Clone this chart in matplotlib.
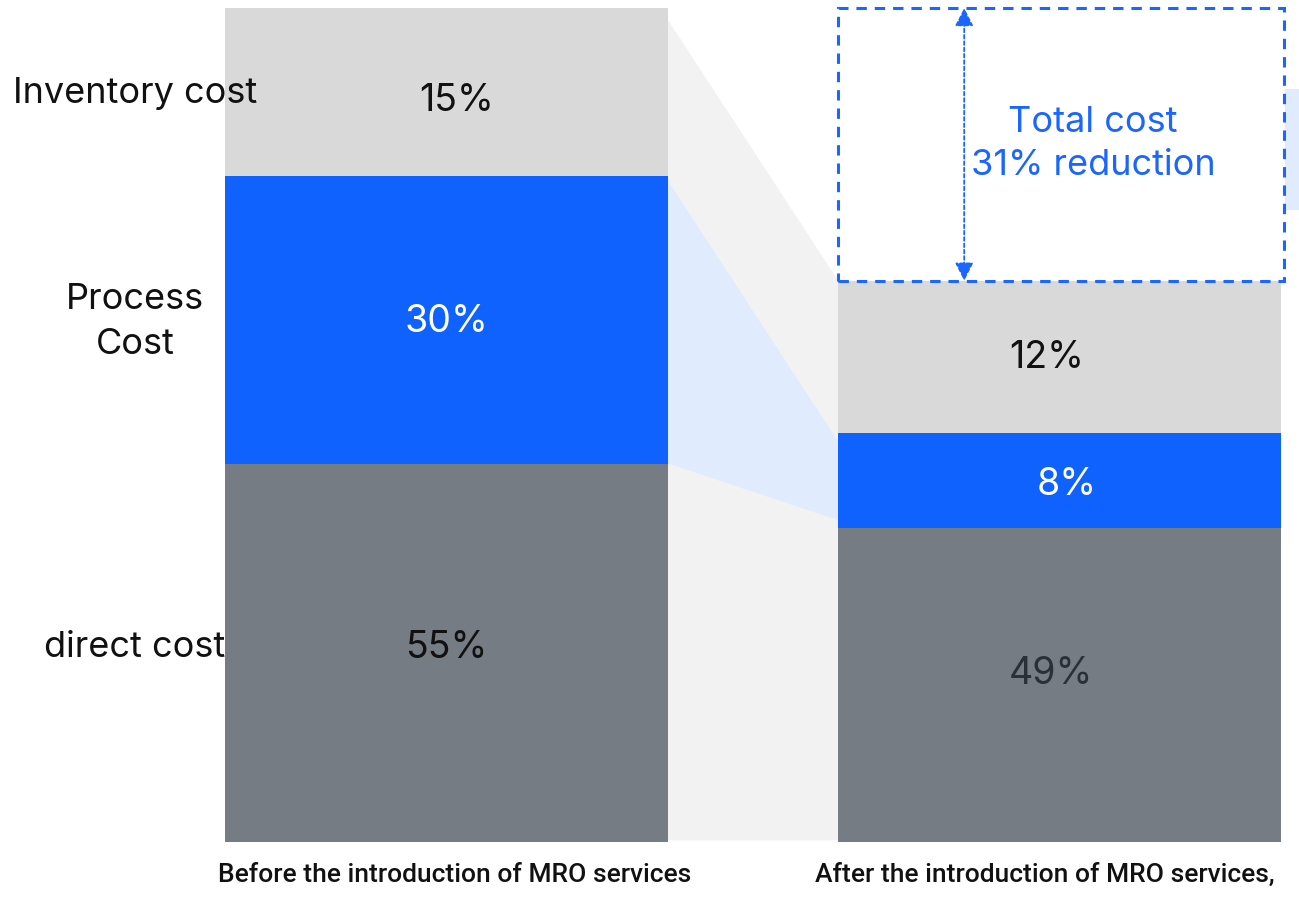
import matplotlib.pyplot as plt
from matplotlib.patches import Polygon, Rectangle

# data (segment heights in drawing units, labels as printed)
stages = ['Before the introduction of MRO services', 'After the introduction of MRO services,']
categories = ['direct cost', 'Process\nCost', 'Inventory cost']
before_heights = [45.3, 34.5, 20.2]
after_heights = [37.6, 11.5, 18.2]
before_labels = ['55%', '30%', '15%']
after_labels = ['49%', '8%', '12%']
reduction_text = 'Total cost\n31% reduction'

colors = ['#767c84', '#1062fe', '#d9d9d9']
before_text_colors = ['#111111', '#ffffff', '#111111']
after_text_colors = ['#2b2f38', '#ffffff', '#111111']
blue = '#1a66ff'

plt.rcParams['font.family'] = ['Inter', 'DejaVu Sans']

# pixel scale of the layout
PX_X = 613.0   # px per x unit (distance between bar centres)
PX_Y = 8.34    # px per y unit
X_ORIGIN = 446.5
Y_ORIGIN = 842.0


def px_x(p):
    return (p - X_ORIGIN) / PX_X


def px_y(p):
    return (Y_ORIGIN - p) / PX_Y


fig = plt.figure(figsize=(12.99, 8.97), dpi=100)
ax = fig.add_axes([0, 0, 1, 1])
ax.set_xlim(px_x(0), px_x(1299))
ax.set_ylim(px_y(897), px_y(0))
ax.axis('off')

width = 0.722
x_pos = [0, 1]

def cum(h):
    out = [0]
    for v in h:
        out.append(out[-1] + v)
    return out

cb = cum(before_heights)
ca = cum(after_heights)
x0r = x_pos[0] + width / 2
x1l = x_pos[1] - width / 2

# connecting shapes
gray_poly = Polygon([(x0r, cb[3] - 1.4), (x1l, ca[3]), (x1l, 0.2), (x0r, 0.2)],
                    closed=True, facecolor='#f2f2f2', edgecolor='none', zorder=1)
ax.add_patch(gray_poly)
blue_poly = Polygon([(x0r, cb[2] - 0.5), (x1l, ca[2] - 1.1), (x1l, ca[1] + 1.0), (x0r, cb[1] + 0.1)],
                    closed=True, facecolor='#e0ebfd', edgecolor='none', zorder=2)
ax.add_patch(blue_poly)

# stacked bars
for i in range(3):
    ax.bar(x_pos[0], before_heights[i], bottom=cb[i], width=width, color=colors[i], zorder=3)
    ax.bar(x_pos[1], after_heights[i], bottom=ca[i], width=width, color=colors[i], zorder=3)

# value labels
before_dx = [0, 0, 10]
before_dy = [5, -2, -9]
after_dx = [-9, 7, -13]
after_dy = [11, -5, -1]
for i in range(3):
    ax.text(x_pos[0] + before_dx[i] / PX_X, (cb[i] + cb[i + 1]) / 2 + before_dy[i] / PX_Y,
            before_labels[i], ha='center', va='center', fontsize=27,
            color=before_text_colors[i], zorder=5)
    ax.text(x_pos[1] + after_dx[i] / PX_X, (ca[i] + ca[i + 1]) / 2 + after_dy[i] / PX_Y,
            after_labels[i], ha='center', va='center', fontsize=27,
            color=after_text_colors[i], zorder=5)

# category labels on the left
cat_y = [647, 322, 93]
for name, y in zip(categories, cat_y):
    ax.text(px_x(135), px_y(y), name, ha='center', va='center', fontsize=26,
            linespacing=1.45, color='#111111', zorder=5)

# stage labels under the bars
stage_x = [455, 1045]
for name, x in zip(stages, stage_x):
    ax.text(px_x(x), px_y(875), name, ha='center', va='center', fontsize=19,
            family=['Roboto', 'DejaVu Sans'], fontweight='medium',
            color='#111111', zorder=5)

# reduction box
box = Rectangle((x1l, ca[3]), width + 3 / PX_X, cb[3] - ca[3], fill=False,
                edgecolor=blue, linewidth=2.2, linestyle=(0, (3.4, 2.6)), zorder=6)
ax.add_patch(box)
xa = x1l + 126 / PX_X
ax.annotate('', xy=(xa, cb[3]), xytext=(xa, ca[3]),
            arrowprops=dict(arrowstyle='<|-|>,head_length=0.55,head_width=0.28',
                            color=blue, lw=1.3, linestyle=(0, (2, 1.5)),
                            shrinkA=0, shrinkB=0, mutation_scale=20), zorder=6)
ax.text(px_x(1093), px_y(144), reduction_text, ha='center', va='center', fontsize=26,
        linespacing=1.42, color=blue, zorder=6)

# cut-off tint at the right edge
ax.add_patch(Rectangle((px_x(1285), px_y(210)), 1.0, px_y(89) - px_y(210),
                       facecolor='#e0ebfd', edgecolor='none', zorder=1))

fig.savefig('out.png', dpi=100)
